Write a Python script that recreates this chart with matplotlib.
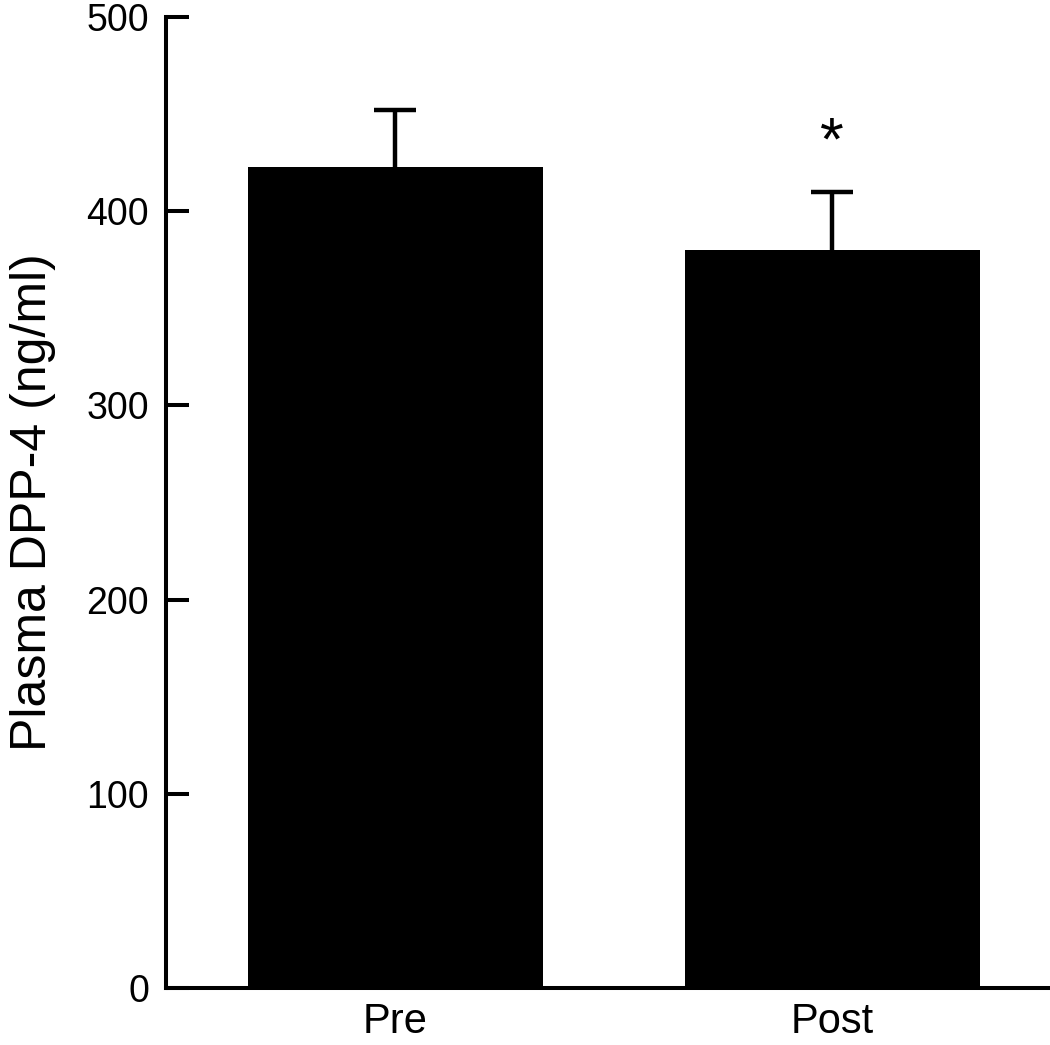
""" bar chart of plasma DPP-4 before and after """
import matplotlib
matplotlib.use("Agg")
from matplotlib import pyplot as plt
import numpy as np

# data
groups = ["Pre", "Post"]
means = [423, 380]
sems = [29, 30]
sig_marks = ["", "*"]

plt.rcParams["font.family"] = ["Liberation Sans", "DejaVu Sans"]

fig = plt.figure(figsize=(10.5, 10.45), dpi=100)
ax = fig.add_axes([0.158, 0.0545, 0.842, 0.9292])

x = np.arange(len(groups))
ax.bar(x, means, width=0.675, color="black", zorder=2)
_err = ax.errorbar(x, means, yerr=[np.zeros(len(sems)), sems], fmt="none",
                   ecolor="black", elinewidth=3.2, capsize=15, capthick=3.2, zorder=1)
# hide the lower caps, only the upper half is shown
_err[1][0].set_visible(False)

# significance marks
for xi, m, s, mark in zip(x, means, sems, sig_marks):
    if mark:
        ax.text(xi, m + s + 10, mark, ha="center", va="bottom", fontsize=44)

# layout
ax.set_xlim(-0.525, 1.498)
ax.set_ylim(0, 500)
ax.set_yticks([0, 100, 200, 300, 400, 500])
ax.set_xticks(x)
ax.set_xticklabels(groups, fontsize=30)
ax.tick_params(axis="x", length=0, pad=10)
ax.tick_params(axis="y", direction="in", length=16.5, width=2.9, labelsize=27, pad=12)
ax.set_ylabel("Plasma DPP-4 (ng/ml)", fontsize=36, labelpad=22)

for side in ["top", "right"]:
    ax.spines[side].set_visible(False)
for side in ["left", "bottom"]:
    ax.spines[side].set_linewidth(2.9)

fig.savefig("out.png", dpi=100)
